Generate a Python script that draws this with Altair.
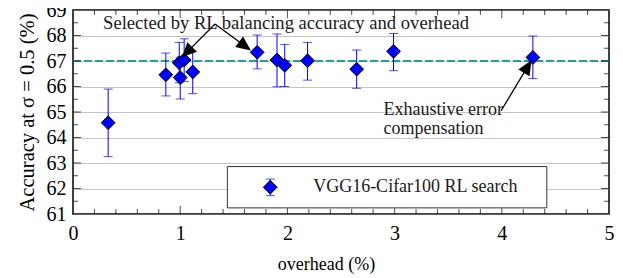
import math
import altair as alt
import pandas as pd

# ---- data ----
overhead = [0.328, 0.866, 0.991, 1.000, 1.037, 1.117, 1.718, 1.903, 1.975, 2.188, 2.646, 2.990, 4.290]
accuracy = [64.58, 66.46, 66.93, 66.35, 67.04, 66.57, 67.34, 67.04, 66.83, 67.01, 66.68, 67.38, 67.14]
acc_hi   = [65.90, 67.31, 67.73, 67.15, 67.87, 67.39, 68.02, 68.06, 67.65, 67.73, 67.43, 68.08, 67.98]
acc_lo   = [63.25, 65.63, 66.15, 65.51, 66.20, 65.72, 66.69, 65.99, 66.00, 66.25, 65.93, 66.62, 66.31]
baseline = 67.0

x_major = [0, 1, 2, 3, 4, 5]
x_minor = [i / 5 for i in range(26) if i % 5 != 0]
y_major = [61, 62, 63, 64, 65, 66, 67, 68, 69]
y_minor = [61.5, 62.5, 63.5, 64.5, 65.5, 66.5, 67.5, 68.5]

# annotations (data coordinates)
ann_text = ["Selected by RL balancing accuracy and overhead", "Exhaustive error", "compensation"]
ann_x = [1.987, 2.897, 2.897]
ann_y = [68.50, 65.06, 64.33]
ann_align = ["center", "left", "left"]
arrow_x0 = [1.325, 1.325, 3.993]
arrow_y0 = [68.45, 68.45, 65.05]
arrow_x1 = [1.031, 1.641, 4.265]
arrow_y1 = [67.21, 67.47, 66.945]

legend_label = "VGG16-Cifar100 RL search"
legend_box = dict(x=1.44, x2=4.42, y=61.24, y2=62.86)
legend_pt = dict(x=1.84, y=62.05, lo=61.72, hi=62.37)
legend_txt_x = 2.24

W, H = 536, 204
XMIN, XMAX, YMIN, YMAX = 0, 5, 61, 69
FONT = "Liberation Serif"

xs = alt.Scale(domain=[XMIN, XMAX], nice=False, zero=False)
ys = alt.Scale(domain=[YMIN, YMAX], nice=False, zero=False)
grid_vals = sorted(y_major + y_minor)

XAX = dict(values=x_major, title="overhead (%)", format="d")
YAX = dict(values=grid_vals, title="Accuracy at σ = 0.5 (%)", format="d",
           labelExpr="datum.value % 1 == 0 ? datum.label : ''")


def X(f):
    return alt.X(f, scale=xs, axis=alt.Axis(**XAX))


def Y(f):
    return alt.Y(f, scale=ys, axis=alt.Axis(**YAX))


pts = pd.DataFrame({"overhead": overhead, "acc": accuracy, "hi": acc_hi, "lo": acc_lo})
base = alt.Chart(pts)

# dashed reference line
ref = alt.Chart(pd.DataFrame({"y": [baseline]})).mark_rule(
    color="#20a0a0", strokeDash=[8, 3], strokeWidth=2
).encode(y=Y("y:Q"))


# inward ticks
def xticks(vals, size):
    df = pd.DataFrame({"v": vals})
    bot = alt.Chart(df).mark_tick(orient="vertical", size=size, thickness=1, color="black",
                                  yOffset=-size / 2).encode(
        x=X("v:Q"), y=alt.YDatum(YMIN, scale=ys, axis=alt.Axis(**YAX)))
    top = alt.Chart(df).mark_tick(orient="vertical", size=size, thickness=1, color="black",
                                  yOffset=size / 2).encode(
        x=X("v:Q"), y=alt.YDatum(YMAX, scale=ys, axis=alt.Axis(**YAX)))
    return [bot, top]


def yticks(vals, size):
    df = pd.DataFrame({"v": vals})
    left = alt.Chart(df).mark_tick(orient="horizontal", size=size, thickness=1, color="black",
                                   xOffset=size / 2).encode(
        y=Y("v:Q"), x=alt.XDatum(XMIN, scale=xs, axis=alt.Axis(**XAX)))
    right = alt.Chart(df).mark_tick(orient="horizontal", size=size, thickness=1, color="black",
                                    xOffset=-size / 2).encode(
        y=Y("v:Q"), x=alt.XDatum(XMAX, scale=xs, axis=alt.Axis(**XAX)))
    return [left, right]


ticks = xticks(x_major[1:-1], 8) + xticks(x_minor, 5) + yticks(y_major[1:-1], 8) + yticks(y_minor, 5)

# error bars
err = base.mark_rule(color="#0000ff", strokeWidth=1).encode(
    x=X("overhead:Q"), y=Y("lo:Q"), y2="hi:Q")
cap_hi = base.mark_tick(orient="horizontal", size=9, thickness=1, color="#0000ff").encode(
    x=X("overhead:Q"), y=Y("hi:Q"))
cap_lo = base.mark_tick(orient="horizontal", size=9, thickness=1, color="#0000ff").encode(
    x=X("overhead:Q"), y=Y("lo:Q"))
dots = base.mark_point(shape="diamond", size=190, filled=True, fill="#0000ff", stroke="black",
                       strokeWidth=1, opacity=1).encode(x=X("overhead:Q"), y=Y("acc:Q"))

# annotations
ann = pd.DataFrame({"t": ann_text, "x": ann_x, "y": ann_y, "a": ann_align})
ann_c = alt.Chart(ann[ann.a == "center"]).mark_text(font=FONT, fontSize=18.6, color="#1a1a1a",
                                                   align="center", baseline="middle").encode(
    x=X("x:Q"), y=Y("y:Q"), text="t:N")
ann_l = alt.Chart(ann[ann.a == "left"]).mark_text(font=FONT, fontSize=18, color="#1a1a1a",
                                                 align="left", baseline="middle").encode(
    x=X("x:Q"), y=Y("y:Q"), text="t:N")

px_x = W / (XMAX - XMIN)
px_y = H / (YMAX - YMIN)
angles = []
for a, b, c, d in zip(arrow_x0, arrow_y0, arrow_x1, arrow_y1):
    dx = (c - a) * px_x
    dy = -(d - b) * px_y
    angles.append(math.degrees(math.atan2(dx, -dy)) % 360)
arr = pd.DataFrame({"x0": arrow_x0, "y0": arrow_y0, "x1": arrow_x1, "y1": arrow_y1, "ang": angles})
arrow_lines = alt.Chart(arr).mark_rule(color="black", strokeWidth=1.3).encode(
    x=X("x0:Q"), y=Y("y0:Q"), x2="x1:Q", y2="y1:Q")
arrow_heads = alt.Chart(arr).mark_point(shape="M0,0 L-0.45,1 L0.45,1 Z", size=500, filled=True,
                                        fill="black", stroke="black", opacity=1).encode(
    x=X("x1:Q"), y=Y("y1:Q"), angle=alt.Angle("ang:Q", scale=None))

# legend (placed in data coordinates)
lb = alt.Chart(pd.DataFrame([legend_box])).mark_rect(fill="white", stroke="#333",
                                                     strokeWidth=1).encode(
    x=X("x:Q"), x2="x2:Q", y=Y("y:Q"), y2="y2:Q")
lp = pd.DataFrame([legend_pt])
lerr = alt.Chart(lp).mark_rule(color="#0000ff").encode(x=X("x:Q"), y=Y("lo:Q"), y2="hi:Q")
lcap1 = alt.Chart(lp).mark_tick(orient="horizontal", size=9, thickness=1, color="#0000ff").encode(
    x=X("x:Q"), y=Y("lo:Q"))
lcap2 = alt.Chart(lp).mark_tick(orient="horizontal", size=9, thickness=1, color="#0000ff").encode(
    x=X("x:Q"), y=Y("hi:Q"))
ldot = alt.Chart(lp).mark_point(shape="diamond", size=190, filled=True, fill="#0000ff",
                                stroke="black", strokeWidth=1, opacity=1).encode(
    x=X("x:Q"), y=Y("y:Q"))
ltxt = alt.Chart(pd.DataFrame({"x": [legend_txt_x], "y": [legend_pt["y"]], "t": [legend_label]})
                 ).mark_text(font=FONT, fontSize=18, align="left", baseline="middle",
                             color="#1a1a1a").encode(x=X("x:Q"), y=Y("y:Q"), text="t:N")

chart = alt.layer(
    ref, *ticks, lb, err, cap_hi, cap_lo, dots, ann_c, ann_l,
    arrow_lines, arrow_heads, lerr, lcap1, lcap2, ldot, ltxt
).properties(
    width=W, height=H, background="white",
    padding={"left": 65, "top": 2, "right": 6, "bottom": 60},
    autosize=alt.AutoSizeParams(type="none"),
).configure_view(stroke="black", strokeWidth=1.5
).configure_axis(
    ticks=False, domain=False, labelFont=FONT, labelFontSize=20, labelColor="black",
    titleFont=FONT, titleFontWeight="normal", titleColor="black",
    labelOverlap=False, labelFlush=False,
).configure_axisX(
    grid=False, labelPadding=9, titlePadding=12, titleX=253, titleAnchor="middle",
    titleFontSize=18,
).configure_axisY(
    grid=True, gridColor="#8a8a8a", gridDash=[1, 1], gridWidth=1, labelPadding=7,
    titlePadding=9, titleFontSize=20.5,
)

chart.save("out.html", embed_options={"renderer": "svg", "actions": False})
